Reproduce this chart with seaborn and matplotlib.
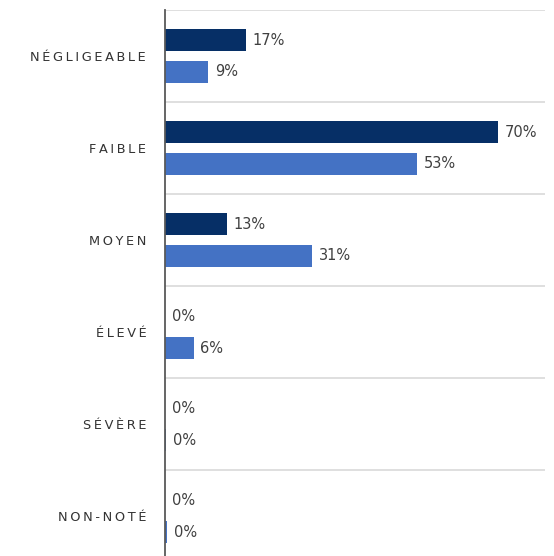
import matplotlib
matplotlib.use("Agg")
import matplotlib.pyplot as plt
import matplotlib.ticker as mticker
import pandas as pd
import seaborn as sns

# Data
CATEGORIES = ["NÉGLIGEABLE", "FAIBLE", "MOYEN", "ÉLEVÉ", "SÉVÈRE", "NON-NOTÉ"]
SERIES = ["A", "B"]
VALUES_A = [17, 70, 13, 0, 0, 0]
VALUES_B = [9, 53, 31, 6, 0.2, 0.4]
LABELS_A = ["17%", "70%", "13%", "0%", "0%", "0%"]
LABELS_B = ["9%", "53%", "31%", "6%", "0%", "0%"]

DARK = "#062f66"
LIGHT = "#4472c4"
TEXT = "#404040"

df = pd.DataFrame({
    "category": CATEGORIES * 2,
    "series": [SERIES[0]] * len(CATEGORIES) + [SERIES[1]] * len(CATEGORIES),
    "value": VALUES_A + VALUES_B,
})

sns.set_theme(style="white")
plt.rcParams["font.family"] = ["DejaVu Sans"]

fig = plt.figure(figsize=(5.54, 5.56), dpi=100)
ax = fig.add_axes([165 / 554, 0, 380 / 554, 546 / 556])

sns.barplot(
    data=df, y="category", x="value", hue="series",
    order=CATEGORIES, hue_order=SERIES,
    palette={SERIES[0]: DARK, SERIES[1]: LIGHT},
    orient="h", width=0.684, gap=0.3, dodge=True,
    linewidth=0, saturation=1, legend=False, ax=ax,
)

for container, labels in zip(ax.containers, [LABELS_A, LABELS_B]):
    ax.bar_label(container, labels=labels, padding=5, fontsize=10.5, color=TEXT)

ax.set_xlim(0, 80)
ax.set_ylim(5.43, -0.5)

# category separators
ax.yaxis.set_minor_locator(mticker.FixedLocator([i - 0.5 for i in range(len(CATEGORIES) + 1)]))
ax.grid(which="minor", axis="y", color="#d9d9d9", linewidth=1.2)
ax.grid(which="major", visible=False)
ax.set_axisbelow(True)

# letter-spaced category labels
spaced = ["\u2009".join(list(c)) for c in CATEGORIES]
ax.set_yticks(range(len(CATEGORIES)))
ax.set_yticklabels(spaced, fontsize=9.3, color="#333333")
ax.tick_params(axis="y", which="both", length=0, pad=13.5)
ax.set_xticks([])
ax.set_xlabel("")
ax.set_ylabel("")

for side in ["top", "right", "bottom"]:
    ax.spines[side].set_visible(False)
ax.spines["left"].set_color("#595959")
ax.spines["left"].set_linewidth(1.3)

fig.savefig("out.png", dpi=100)
